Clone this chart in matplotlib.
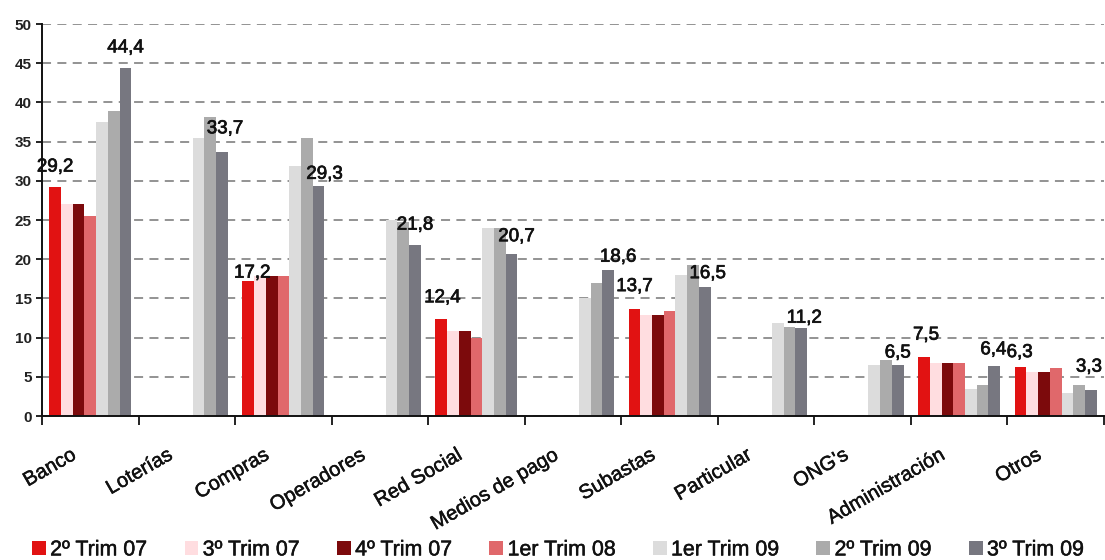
import numpy as np
import matplotlib
matplotlib.use("Agg")
import matplotlib.pyplot as plt
from matplotlib.patches import Patch
import matplotlib.patheffects as pe
import matplotlib.transforms as mtransforms

plt.rcParams["font.family"] = ["Liberation Sans", "DejaVu Sans"]

nan = np.nan

categories = ["Banco", "Loterías", "Compras", "Operadores", "Red Social",
              "Medios de pago", "Subastas", "Particular", "ONG's",
              "Administración", "Otros"]

series_names = ["2º Trim 07", "3º Trim 07", "4º Trim 07", "1er Trim 08",
                "1er Trim 09", "2º Trim 09", "3º Trim 09"]

trim2_07 = [29.2, nan, 17.2, nan, 12.4, nan, 13.7, nan, nan, 7.5, 6.3]
trim3_07 = [27.0, nan, 17.8, nan, 10.9, nan, 12.9, nan, nan, 6.8, 5.6]
trim4_07 = [27.0, nan, 17.8, nan, 10.9, nan, 12.9, nan, nan, 6.8, 5.6]
trim1_08 = [25.5, nan, 17.8, nan, 9.9, nan, 13.4, nan, nan, 6.8, 6.1]
trim1_09 = [37.5, 35.5, 31.9, 25.0, 24.0, 15.0, 18.0, 11.9, 6.5, 3.4, 2.9]
trim2_09 = [38.9, 38.2, 35.5, 24.8, 24.0, 17.0, 19.2, 11.3, 7.2, 3.9, 3.9]
trim3_09 = [44.4, 33.7, 29.3, 21.8, 20.7, 18.6, 16.5, 11.2, 6.5, 6.4, 3.3]

y_ticks = [0, 5, 10, 15, 20, 25, 30, 35, 40, 45, 50]

all_series = [trim2_07, trim3_07, trim4_07, trim1_08, trim1_09, trim2_09, trim3_09]
colors = ["#E11212", "#FFDDE0", "#7C0A0C", "#E0686B",
          "#DCDCDC", "#ABABAB", "#777780"]

# series that carry value labels, with per-label nudges (dx, dy) in pixels
labelled = {0: [(0, 20), None, (4, 8), None, (1, 21), None, (0, 22), None, None, (2, 22), (-1, 14)],
            6: [(0, 20), (3, 23), (6, 12), (0, 20), (5, 17), (10, 13), (3, 13), (3, 10), (0, 12), (-1, 16), (-2, 23)]}

heavy = [pe.withStroke(linewidth=0.5, foreground="#111111")]

fig = plt.figure(figsize=(11.05, 5.6), dpi=100)
ax = fig.add_axes([42 / 1105, 1 - 416 / 560, (1104 - 42) / 1105, (416 - 24) / 560])

n_series = len(all_series)
bar_w = 0.1213
x = np.arange(len(categories))
for k, (vals, col) in enumerate(zip(all_series, colors)):
    pos = x + (k - (n_series - 1) / 2) * bar_w
    ax.bar(pos, vals, width=bar_w, color=col, linewidth=0, zorder=2)
    if k in labelled:
        for i, v in enumerate(vals):
            off = labelled[k][i]
            if off is None or np.isnan(v):
                continue
            dx, dy = off
            ax.annotate(f"{v:.1f}".replace(".", ","), xy=(pos[i], v),
                        xytext=(dx * 0.72, dy * 0.72), textcoords="offset points",
                        ha="center", va="center", fontsize=13.5, color="#111111",
                        path_effects=heavy, zorder=4)

ax.set_xlim(-0.5, len(categories) - 0.5)
ax.set_ylim(0, 50)

# dashed horizontal grid behind bars
ax.set_axisbelow(True)
ax.yaxis.grid(True, linestyle=(0, (5, 3.5)), color="#8a8a8a", linewidth=1.3)
ax.xaxis.grid(False)

for side in ["top", "right"]:
    ax.spines[side].set_visible(False)
for side in ["left", "bottom"]:
    ax.spines[side].set_linewidth(1.4)
    ax.spines[side].set_color("#111111")

ax.set_yticks(y_ticks)
ax.set_yticklabels([str(t) for t in y_ticks], fontsize=11, fontweight="bold", color="#222222")
ax.tick_params(axis="y", direction="out", length=4.5, width=1.3, pad=3, colors="#111111")
ax.tick_params(axis="y", labelcolor="#222222")

# boundary tick marks between categories, labels at category centres
ax.set_xticks(np.arange(-0.5, len(categories), 1.0))
ax.set_xticklabels([])
ax.tick_params(axis="x", which="major", direction="out", length=6.5, width=1.3, colors="#111111")
ax.set_xticks(x, minor=True)
ax.set_xticklabels(categories, minor=True, rotation=30, ha="right", va="top",
                   fontsize=14.5, color="#111111")
ax.tick_params(axis="x", which="minor", length=0, pad=21)
shift = mtransforms.ScaledTranslation(-11 / 100, 0, fig.dpi_scale_trans)
for lab in ax.get_xticklabels(minor=True):
    lab.set_transform(lab.get_transform() + shift)
    lab.set_path_effects([pe.withStroke(linewidth=0.35, foreground="#111111")])

handles = [Patch(facecolor=c, edgecolor="none") for c in colors]
leg = fig.legend(handles, series_names, loc="center", bbox_to_anchor=(0.505, 0.018),
                 ncol=n_series, frameon=False, fontsize=15.4, handlelength=0.65,
                 handleheight=0.65, handletextpad=0.2, columnspacing=1.73,
                 borderaxespad=0, borderpad=0)
for t in leg.get_texts():
    t.set_color("#111111")
    t.set_path_effects([pe.withStroke(linewidth=0.35, foreground="#111111")])

fig.savefig("out.png", dpi=100, facecolor="white")
